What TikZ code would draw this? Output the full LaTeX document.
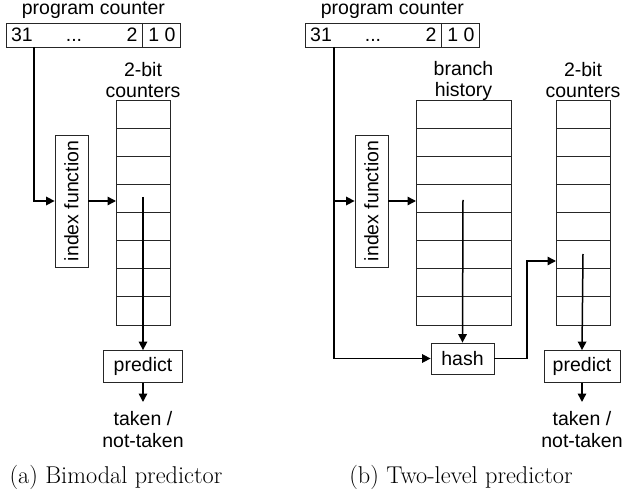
\documentclass[tikz,border=0pt]{standalone}
\usepackage{fontspec}
\usetikzlibrary{arrows.meta}
\newfontfamily\arialfont{Liberation Sans}
\newcommand\labfont{\fontsize{19.5}{21}\selectfont\arialfont}
\newcommand\capfont{\fontsize{24.3}{29}\selectfont}

\tikzset{
  lbl/.style={font=\labfont, inner sep=0pt, align=center},
  bit/.style={font=\labfont, inner sep=0pt, anchor=base},
  box/.style={draw=black!85, line width=0.8pt, font=\labfont, inner sep=0pt},
  tbl/.style={draw=black!85, line width=0.8pt, inner sep=0pt, minimum width=#1, minimum height=225pt, anchor=north west},
  rowline/.style={draw=black!85, line width=0.8pt},
  conn/.style={line width=1.5pt, -{Triangle[length=8.5pt,width=8.5pt]}},
  caption/.style={font=\capfont, inner sep=0pt, anchor=base},
}

% a table of eight equal rows hanging from the given north-west corner
\newcommand\rowtable[3]{%
  \node[tbl=#3] (#1) at (#2) {};
  \foreach \r in {1,...,7}
    \draw[rowline] (#1.north west) ++(0,\r*28.125) -- ++(#3,0);
}

% program counter register with its bit fields
\newcommand\pcreg[2]{%
  \node[box, minimum width=174pt, minimum height=24pt, anchor=north west] (#1) at (#2) {};
  \draw[rowline] (#1.north west) ++(136,0) -- ++(0,24);
  \node[lbl, anchor=south] (#1lbl) at ([yshift=4.5pt]#1.north) {program counter};
  \path (#1.north west) ++(0,19) coordinate (#1base);
  \node[bit] (#1hi) at ([xshift=16pt]#1base) {31};
  \node[bit] (#1dots) at ([xshift=68pt]#1base) {...};
  \node[bit] (#1two) at ([xshift=126pt]#1base) {2};
  \node[bit] (#1lo) at ([xshift=156pt]#1base) {1 0};
}

\begin{document}
\begin{tikzpicture}[x=1pt,y=-1pt]
\useasboundingbox (0,0) rectangle (624,494);

% ---------------- (a) bimodal predictor ----------------
\pcreg{pcA}{6,23}
\coordinate (tapA) at (34,47);
\node[box, minimum width=132pt, minimum height=33pt, rotate=90] (idxA) at (71.5,201) {index function};
\rowtable{ctrA}{116,100}{54pt}
\node[lbl, anchor=south] (ctrAlbl) at (143,98) {2-bit\\counters};
\coordinate (srcA) at (143,197);
\node[box, minimum width=79pt, minimum height=32pt] (predA) at (143,366.5) {predict};
\node[lbl, anchor=north, font=\fontsize{19.5}{22}\selectfont\arialfont] (outA) at (143,411) {taken /\\not-taken};

\draw[conn] (tapA) |- (idxA.north);
\draw[conn] (idxA.south) -- (idxA.south -| ctrA.west);
\draw[conn] (srcA) -- (predA.north);
\draw[conn, shorten >=9pt] (predA.south) -- (outA.north);

\node[caption] (capA) at (116,483) {(a) Bimodal predictor};

% ---------------- (b) two-level predictor ----------------
\pcreg{pcB}{305,23}
\coordinate (tapB) at (334,47);
\node[box, minimum width=132pt, minimum height=33pt, rotate=90] (idxB) at (371.5,201) {index function};
\rowtable{bhB}{416,100}{95pt}
\node[lbl, anchor=south] (bhBlbl) at (463.5,101) {branch\\history};
\rowtable{ctrB}{556,100}{54pt}
\node[lbl, anchor=south] (ctrBlbl) at (583,98) {2-bit\\counters};
\coordinate (srcB) at (463,200);
\coordinate (srcC) at (583,254);
\coordinate (jogB) at (527,261);
\node[box, minimum width=63pt, minimum height=31pt] (hashB) at (462.5,358.5) {hash};
\node[box, minimum width=76pt, minimum height=32pt] (predB) at (582,366.5) {predict};
\node[lbl, anchor=north, font=\fontsize{19.5}{22}\selectfont\arialfont] (outB) at (582,411) {taken /\\not-taken};

\draw[conn] (tapB) |- (hashB.west);
\draw[conn] (tapB |- idxB.north) -- (idxB.north);
\draw[conn] (idxB.south) -- (idxB.south -| bhB.west);
\draw[conn] (srcB) -- (hashB.north);
\draw[conn] (hashB.east) -| (jogB) -- (jogB -| ctrB.west);
\draw[conn] (srcC) -- (predB.north);
\draw[conn, shorten >=9pt] (predB.south) -- (outB.north);

\node[caption] (capB) at (461,483) {(b) Two-level predictor};
\end{tikzpicture}
\end{document}
